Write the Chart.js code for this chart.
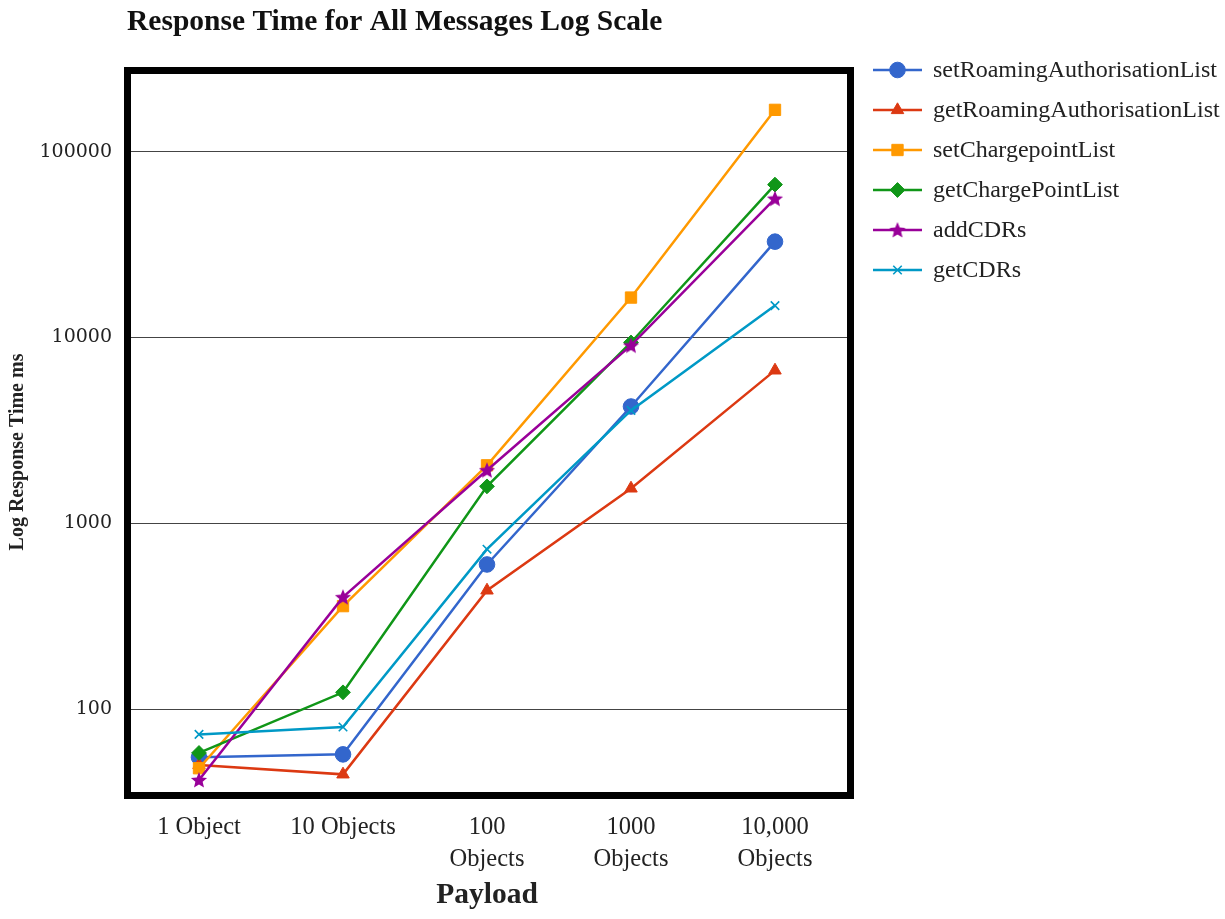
<!DOCTYPE html>
<html>
<head>
<meta charset="utf-8">
<script src="https://cdn.jsdelivr.net/npm/chart.js@4.4.1/dist/chart.umd.min.js"></script>
<style>
  html, body { margin: 0; padding: 0; background: #ffffff; }
  canvas { display: block; }
</style>
</head>
<body>
<canvas id="c" width="1225" height="919"></canvas>
<script>
// ---- data ----
const categories = [["1 Object"], ["10 Objects"], ["100", "Objects"], ["1000", "Objects"], ["10,000", "Objects"]];
const seriesNames = ["setRoamingAuthorisationList", "getRoamingAuthorisationList", "setChargepointList", "getChargePointList", "addCDRs", "getCDRs"];
const setRoamingAuthorisationList = [55, 57, 600, 4250, 32800];
const getRoamingAuthorisationList = [50, 44.5, 435, 1540, 6650];
const setChargepointList = [48, 358, 2050, 16400, 168000];
const getChargePointList = [58, 123, 1580, 9400, 66500];
const addCDRs = [41.5, 400, 1930, 9060, 55900];
const getCDRs = [73, 80, 725, 4050, 14850];
const yTickValues = [100, 1000, 10000, 100000];
const yMin = 36.2, yMax = 262000;

// ---- styles ----
const colors = ["#3366CC", "#DC3912", "#FF9900", "#109618", "#990099", "#0099C6"];

function makeStar(size, color) {
  const cv = document.createElement('canvas');
  cv.width = size; cv.height = size;
  const g = cv.getContext('2d');
  const cx = size / 2, cy = size / 2 + 0.6, ro = size / 2 - 0.5, ri = ro * 0.45;
  g.beginPath();
  for (let k = 0; k < 10; k++) {
    const r = k % 2 === 0 ? ro : ri;
    const a = -Math.PI / 2 + k * Math.PI / 5;
    const px = cx + r * Math.cos(a), py = cy + r * Math.sin(a);
    if (k === 0) g.moveTo(px, py); else g.lineTo(px, py);
  }
  g.closePath();
  g.fillStyle = color;
  g.fill();
  return cv;
}
const starImg = makeStar(18, colors[4]);

const pointStyles = ["circle", "triangle", "rect", "rectRot", starImg, "crossRot"];
const pointRadii = [7.8, 7.2, 8, 7.4, 8, 6];
const pointBorders = [1, 1, 1, 1, 1, 1.6];
const seriesData = [setRoamingAuthorisationList, getRoamingAuthorisationList, setChargepointList, getChargePointList, addCDRs, getCDRs];

const datasets = seriesNames.map((name, i) => ({
  label: name,
  data: seriesData[i],
  borderColor: colors[i],
  backgroundColor: colors[i],
  pointBackgroundColor: colors[i],
  pointBorderColor: colors[i],
  pointStyle: pointStyles[i],
  pointRadius: pointRadii[i],
  pointHoverRadius: pointRadii[i],
  pointBorderWidth: pointBorders[i],
  borderWidth: 2.5,
  tension: 0,
  fill: false,
  order: seriesNames.length - i
}));

const serif = "'Liberation Serif', 'Times New Roman', serif";

const framePlugin = {
  id: 'frame',
  afterDraw(chart) {
    const ctx = chart.ctx;
    ctx.save();
    // thick black frame around plot
    ctx.strokeStyle = '#000000';
    ctx.lineWidth = 7;
    ctx.strokeRect(127.5, 70.5, 723, 725);
    // y-axis title
    ctx.translate(18, 452);
    ctx.rotate(-Math.PI / 2);
    ctx.font = "bold 20px " + serif;
    ctx.fillStyle = '#222222';
    ctx.textAlign = 'center';
    ctx.textBaseline = 'middle';
    ctx.fillText("Log Response Time ms", 0, 0);
    ctx.restore();

    // legend
    ctx.save();
    const dsets = chart.data.datasets;
    dsets.forEach((ds, i) => {
      const y = 70 + 40 * i;
      ctx.strokeStyle = ds.borderColor;
      ctx.lineWidth = 2.5;
      ctx.beginPath();
      ctx.moveTo(873, y);
      ctx.lineTo(922, y);
      ctx.stroke();
      ctx.fillStyle = ds.pointBackgroundColor;
      ctx.strokeStyle = ds.pointBorderColor;
      ctx.lineWidth = ds.pointBorderWidth;
      if (Chart.helpers && Chart.helpers.drawPoint) {
        Chart.helpers.drawPoint(ctx, {
          pointStyle: ds.pointStyle,
          radius: ds.pointRadius,
          rotation: 0,
          borderWidth: ds.pointBorderWidth
        }, 897.5, y);
      }
      ctx.fillStyle = '#222222';
      ctx.font = "24px " + serif;
      ctx.textAlign = 'left';
      ctx.textBaseline = 'middle';
      ctx.fillText(ds.label, 933, y + 1);
    });
    ctx.restore();
  }
};

new Chart(document.getElementById('c'), {
  type: 'line',
  data: { labels: categories, datasets: datasets },
  options: {
    responsive: false,
    animation: false,
    events: [],
    layout: { padding: { left: 0, right: 378, top: 0, bottom: 0 } },
    plugins: {
      legend: { display: false },
      tooltip: { enabled: false },
      title: {
        display: true,
        text: "Response Time for All Messages Log Scale",
        align: 'start',
        fullSize: false,
        color: '#111111',
        font: { family: serif, size: 29.5, weight: 'bold', lineHeight: 1.2 },
        padding: { top: 5, bottom: 33.6 }
      }
    },
    scales: {
      x: {
        type: 'category',
        offset: true,
        grid: { display: false, drawTicks: false },
        border: { display: false },
        ticks: {
          color: '#222222',
          font: { family: serif, size: 24.5, lineHeight: 1.3 },
          padding: 21,
          maxRotation: 0,
          autoSkip: false
        },
        title: {
          display: true,
          text: "Payload",
          color: '#222222',
          font: { family: serif, size: 29.5, weight: 'bold', lineHeight: 1.2 },
          padding: { top: 0, bottom: 6 }
        },
        afterFit(scale) { scale.height = 128; }
      },
      y: {
        type: 'logarithmic',
        min: yMin,
        max: yMax,
        grid: { color: '#444444', lineWidth: 1, drawTicks: false },
        border: { display: false },
        ticks: {
          color: '#222222',
          font: { family: "'DejaVu Serif', serif", size: 19 },
          padding: 15,
          callback: (v) => String(v)
        },
        afterBuildTicks(scale) { scale.ticks = yTickValues.map(v => ({ value: v, major: false })); },
        afterFit(scale) { scale.width = 127; }
      }
    }
  },
  plugins: [framePlugin]
});
</script>
</body>
</html>
